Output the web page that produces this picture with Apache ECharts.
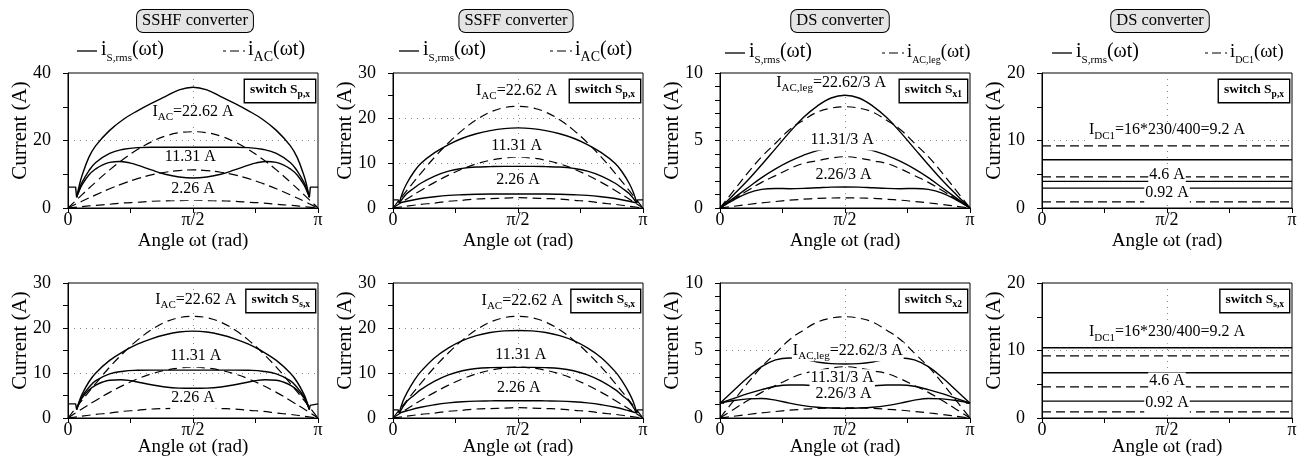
<!DOCTYPE html>
<html>
<head>
<meta charset="utf-8">
<title>Switch rms currents</title>
<script src="https://cdn.jsdelivr.net/npm/echarts@6/dist/echarts.min.js"></script>
<style>
  html, body { margin: 0; padding: 0; background: #fff; }
  #chart { width: 1310px; height: 475px; }
</style>
</head>
<body>
<div id="chart"></div>
<script>
const FONT = 'Liberation Serif'

// angle grid in degrees (0..180 is 0..pi)
const ang = [0, 10, 20, 30, 40, 50, 60, 70, 80, 90, 100, 110, 120, 130, 140, 150, 160, 170, 180]

// dashed reference currents i_AC (peaks 22.62 / 11.31 / 2.26 A)
const iAcHigh = [0, 3.9, 7.7, 11.3, 14.5, 17.3, 19.6, 21.3, 22.3, 22.6, 22.3, 21.3, 19.6, 17.3, 14.5, 11.3, 7.7, 3.9, 0]
const iAcMid = [0, 2.0, 3.9, 5.7, 7.3, 8.7, 9.8, 10.6, 11.1, 11.3, 11.1, 10.6, 9.8, 8.7, 7.3, 5.7, 3.9, 2.0, 0]
const iAcLow = [0, 0.4, 0.8, 1.1, 1.5, 1.7, 2.0, 2.1, 2.2, 2.3, 2.2, 2.1, 2.0, 1.7, 1.5, 1.1, 0.8, 0.4, 0]
// dashed leg currents of the DS converter (peaks 22.62/3 ...)
const iLegHigh = [0, 1.3, 2.6, 3.8, 4.8, 5.8, 6.5, 7.1, 7.4, 7.5, 7.4, 7.1, 6.5, 5.8, 4.8, 3.8, 2.6, 1.3, 0]
const iLegMid = [0, 0.65, 1.3, 1.9, 2.4, 2.9, 3.3, 3.5, 3.7, 3.8, 3.7, 3.5, 3.3, 2.9, 2.4, 1.9, 1.3, 0.65, 0]
const iLegLow = [0, 0.13, 0.26, 0.38, 0.48, 0.58, 0.65, 0.71, 0.74, 0.75, 0.74, 0.71, 0.65, 0.58, 0.48, 0.38, 0.26, 0.13, 0]

// SSHF, switch Sp,x
const sshfPHigh = [[6.2, 3.2], [8, 6.5], [10, 9.5], [15, 15], [20, 18.5], [30, 23], [40, 26.3], [50, 28.8], [60, 31], [70, 33], [80, 35], [90, 35.8], [100, 35], [110, 33], [120, 31], [130, 28.8], [140, 26.3], [150, 23], [160, 18.5], [165, 15], [170, 9.5], [172, 6.5], [173.8, 3.2]]
const sshfPMid = [[6.2, 3.2], [8, 5.5], [10, 7.5], [15, 11], [20, 13.5], [30, 16.2], [40, 17.4], [50, 17.9], [60, 18], [70, 18], [80, 18], [90, 18], [100, 18], [110, 18], [120, 18], [130, 17.9], [140, 17.4], [150, 16.2], [160, 13.5], [165, 11], [170, 7.5], [172, 5.5], [173.8, 3.2]]
const sshfPLow = [[6.2, 3.2], [8, 5], [10, 6.8], [15, 9.8], [20, 11.6], [25, 12.8], [30, 13.5], [37, 13.8], [45, 13.3], [50, 12.7], [60, 11.3], [70, 10], [80, 9.2], [90, 8.9], [100, 9.2], [110, 10], [120, 11.3], [130, 12.7], [135, 13.3], [143, 13.8], [150, 13.5], [155, 12.8], [160, 11.6], [165, 9.8], [170, 6.8], [172, 5], [173.8, 3.2]]
const sshfPEdgeL = [[0, 6.2], [5.5, 6.2], [5.7, 5.3], [6.2, 3.2]]
const sshfPEdgeR = [[173.8, 3.2], [174.3, 5.3], [174.5, 6.2], [180, 6.2]]

// SSHF, switch Ss,x
const sshfSHigh = [[6.2, 1.9], [8, 3.6], [10, 5.2], [15, 8], [20, 10], [30, 12.8], [40, 14.8], [50, 16.4], [60, 17.6], [70, 18.5], [80, 19.1], [90, 19.3], [100, 19.1], [110, 18.5], [120, 17.6], [130, 16.4], [140, 14.8], [150, 12.8], [160, 10], [165, 8], [170, 5.2], [172, 3.6], [173.8, 1.9]]
const sshfSMid = [[6.2, 1.9], [8, 3.4], [10, 4.7], [15, 6.8], [20, 8.3], [30, 9.8], [40, 10.4], [50, 10.6], [60, 10.65], [70, 10.65], [80, 10.65], [90, 10.65], [100, 10.65], [110, 10.65], [120, 10.65], [130, 10.6], [140, 10.4], [150, 9.8], [160, 8.3], [165, 6.8], [170, 4.7], [172, 3.4], [173.8, 1.9]]
const sshfSLow = [[6.2, 1.9], [8, 3.2], [10, 4.4], [15, 6.2], [20, 7.3], [25, 8], [30, 8.4], [38, 8.5], [45, 8.3], [50, 8], [60, 7.4], [70, 6.9], [80, 6.65], [90, 6.6], [100, 6.65], [110, 6.9], [120, 7.4], [130, 8], [135, 8.3], [142, 8.5], [150, 8.4], [155, 8], [160, 7.3], [165, 6.2], [170, 4.4], [172, 3.2], [173.8, 1.9]]
const sshfSEdgeL = [[0, 3.15], [5.5, 3.15], [5.7, 2.8], [6.2, 1.9]]
const sshfSEdgeR = [[173.8, 1.9], [174.3, 2.8], [174.5, 3.15], [180, 3.15]]

// SSFF, switch Sp,x
const ssffPHigh = [[4.5, 1.1], [7, 3.5], [10, 5.5], [15, 8], [20, 9.9], [30, 12.3], [40, 14.1], [50, 15.5], [60, 16.5], [70, 17.2], [80, 17.65], [90, 17.8], [100, 17.65], [110, 17.2], [120, 16.5], [130, 15.5], [140, 14.1], [150, 12.3], [160, 9.9], [165, 8], [170, 5.5], [173, 3.5], [175.5, 1.1]]
const ssffPMid = [[4.5, 1.1], [10, 3.2], [15, 4.4], [20, 5.5], [30, 7.1], [40, 8.2], [50, 8.8], [60, 9.1], [70, 9.2], [80, 9.25], [90, 9.25], [100, 9.25], [110, 9.2], [120, 9.1], [130, 8.8], [140, 8.2], [150, 7.1], [160, 5.5], [165, 4.4], [170, 3.2], [175.5, 1.1]]
const ssffPLow = [[4.5, 1.1], [10, 1.5], [20, 2.1], [30, 2.5], [40, 2.8], [50, 2.95], [60, 3.05], [70, 3.1], [80, 3.1], [90, 3.1], [100, 3.1], [110, 3.1], [120, 3.05], [130, 2.95], [140, 2.8], [150, 2.5], [160, 2.1], [170, 1.5], [175.5, 1.1]]
const ssffEdgeL = [[0, 1.8], [3.8, 1.8], [4.0, 1.5], [4.5, 1.1]]
const ssffEdgeR = [[175.5, 1.1], [176, 1.5], [176.2, 1.8], [180, 1.8]]

// SSFF, switch Ss,x
const ssffSHigh = [[4.5, 1.1], [7, 3.6], [10, 5.6], [15, 8.2], [20, 10.3], [30, 13.4], [40, 15.6], [50, 17.2], [60, 18.3], [70, 19], [80, 19.35], [90, 19.45], [100, 19.35], [110, 19], [120, 18.3], [130, 17.2], [140, 15.6], [150, 13.4], [160, 10.3], [165, 8.2], [170, 5.6], [173, 3.6], [175.5, 1.1]]
const ssffSMid = [[4.5, 1.1], [10, 3.7], [15, 5], [20, 6.3], [30, 8.2], [40, 9.6], [50, 10.5], [60, 11], [70, 11.2], [80, 11.25], [90, 11.25], [100, 11.25], [110, 11.2], [120, 11], [130, 10.5], [140, 9.6], [150, 8.2], [160, 6.3], [165, 5], [170, 3.7], [175.5, 1.1]]
const ssffSLow = [[4.5, 1.1], [10, 1.6], [20, 2.4], [30, 2.95], [40, 3.35], [50, 3.6], [60, 3.75], [70, 3.8], [80, 3.85], [90, 3.85], [100, 3.85], [110, 3.8], [120, 3.75], [130, 3.6], [140, 3.35], [150, 2.95], [160, 2.4], [170, 1.6], [175.5, 1.1]]

// DS converter, switches Sx1 and Sx2 (values on the ang grid)
const dsX1High = [0, 1.0, 2.05, 3.2, 4.4, 5.6, 6.7, 7.55, 8.15, 8.35, 8.15, 7.55, 6.7, 5.6, 4.4, 3.2, 2.05, 1.0, 0]
const dsX1Mid = [0, 0.75, 1.5, 2.25, 2.9, 3.45, 3.9, 4.25, 4.42, 4.47, 4.42, 4.25, 3.9, 3.45, 2.9, 2.25, 1.5, 0.75, 0]
const dsX1Low = [0, 0.6, 1.1, 1.38, 1.45, 1.43, 1.45, 1.5, 1.55, 1.56, 1.55, 1.5, 1.45, 1.43, 1.45, 1.38, 1.1, 0.6, 0]
const dsX2High = [1.1, 2.05, 3.0, 3.8, 4.3, 4.45, 4.35, 4.15, 4.03, 4.0, 4.03, 4.15, 4.35, 4.45, 4.3, 3.8, 3.0, 2.05, 1.1]
const dsX2Mid = [1.1, 1.45, 1.8, 2.1, 2.35, 2.45, 2.45, 2.38, 2.3, 2.28, 2.3, 2.38, 2.45, 2.45, 2.35, 2.1, 1.8, 1.45, 1.1]
const dsX2Low = [1.1, 1.3, 1.42, 1.45, 1.32, 1.1, 0.92, 0.8, 0.74, 0.72, 0.74, 0.8, 0.92, 1.1, 1.32, 1.45, 1.42, 1.3, 1.1]

// DS converter, DC side (constant levels)
const iDc1 = [9.2, 4.6, 0.92]
const dsPxRms = [7.15, 3.95, 2.95]
const dsSxRms = [10.4, 6.7, 2.5]

const pairs = (xs, ys) => xs.map((x, i) => [x, ys[i]])
const flat = v => [[0, v], [180, v]]

const noteRich = {
  m: { fontSize: 16, fontFamily: FONT, fill: '#000', verticalAlign: 'bottom', padding: [0, 0, 3, 0] },
  s: { fontSize: 11, fontFamily: FONT, fill: '#000', verticalAlign: 'bottom' }
}
const acNotes = (a, b, c) => [
  { at: a, text: '{m|I}{s|AC}{m|=22.62 A}' },
  { at: b, text: '{m|11.31 A}' },
  { at: c, text: '{m|2.26 A}' }
]
const legNotes = (a, b, c) => [
  { at: a, text: '{m|I}{s|AC,leg}{m|=22.62/3 A}' },
  { at: b, text: '{m|11.31/3 A}' },
  { at: c, text: '{m|2.26/3 A}' }
]
const dcNotes = (a, b, c) => [
  { at: a, text: '{m|I}{s|DC1}{m|=16*230/400=9.2 A}' },
  { at: b, text: '{m|4.6 A}' },
  { at: c, text: '{m|0.92 A}' }
]

const panels = [
  { yMax: 40, yInt: 20, minor: 2, sw: 'p,x',
    solid: [sshfPHigh, sshfPMid, sshfPLow], sharp: [sshfPEdgeL, sshfPEdgeR],
    dashed: [pairs(ang, iAcHigh), pairs(ang, iAcMid), pairs(ang, iAcLow)],
    notes: acNotes([90, 28], [88, 14.6], [90, 5.1]) },
  { yMax: 30, yInt: 10, minor: 2, sw: 'p,x',
    solid: [ssffPHigh, ssffPMid, ssffPLow], sharp: [ssffEdgeL, ssffEdgeR],
    dashed: [pairs(ang, iAcHigh), pairs(ang, iAcMid), pairs(ang, iAcLow)],
    notes: acNotes([89, 25.8], [89, 13.4], [90, 6.0]) },
  { yMax: 10, yInt: 5, minor: 5, sw: 'x1',
    solid: [pairs(ang, dsX1High), pairs(ang, dsX1Mid), pairs(ang, dsX1Low)], sharp: [],
    dashed: [pairs(ang, iLegHigh), pairs(ang, iLegMid), pairs(ang, iLegLow)],
    notes: legNotes([80, 9.2], [88, 4.96], [89, 2.33]) },
  { yMax: 20, yInt: 10, minor: 2, sw: 'p,x',
    solid: [], sharp: dsPxRms.map(flat),
    dashed: iDc1.map(flat), dashedSharp: true,
    notes: dcNotes([90, 11.3], [90, 4.67], [90, 1.97]) },
  { yMax: 30, yInt: 10, minor: 2, sw: 's,x',
    solid: [sshfSHigh, sshfSMid, sshfSLow], sharp: [sshfSEdgeL, sshfSEdgeR],
    dashed: [pairs(ang, iAcHigh), pairs(ang, iAcMid), pairs(ang, iAcLow)],
    notes: acNotes([92, 25.9], [92, 13.4], [90, 4.1]) },
  { yMax: 30, yInt: 10, minor: 2, sw: 's,x',
    solid: [ssffSHigh, ssffSMid, ssffSLow], sharp: [ssffEdgeL, ssffEdgeR],
    dashed: [pairs(ang, iAcHigh), pairs(ang, iAcMid), pairs(ang, iAcLow)],
    notes: acNotes([93, 25.8], [92, 13.8], [90.5, 6.4]) },
  { yMax: 10, yInt: 5, minor: 5, sw: 'x2',
    solid: [pairs(ang, dsX2High), pairs(ang, dsX2Mid), pairs(ang, dsX2Low)], sharp: [[[0, 1.1], [3, 1.1]], [[177, 1.1], [180, 1.1]]],
    dashed: [pairs(ang, iLegHigh), pairs(ang, iLegMid), pairs(ang, iLegLow)],
    notes: legNotes([92, 4.9], [88, 2.9], [89, 1.65]) },
  { yMax: 20, yInt: 10, minor: 2, sw: 's,x',
    solid: [], sharp: dsSxRms.map(flat),
    dashed: iDc1.map(flat), dashedSharp: true,
    notes: dcNotes([90, 12.5], [90, 5.33], [90, 2.0]) }
]

// layout of the 2 x 4 panels
const lefts = [68, 393, 720, 1042]
const tops = [73, 283]
const PW = 250
const PH = 135

const grids = []
const xAxes = []
const yAxes = []
const series = []
const graphics = []

panels.forEach((p, i) => {
  const col = i % 4
  const row = Math.floor(i / 4)
  const left = lefts[col]
  const top = tops[row]
  grids.push({ left: left, top: top, width: PW, height: PH, show: true, borderColor: '#000', borderWidth: 1, outerBoundsMode: 'none' })
  xAxes.push({
    type: 'value', gridIndex: i, min: 0, max: 180, interval: 90,
    axisLine: { show: true, lineStyle: { color: '#000', width: 1 } },
    axisTick: { show: true, inside: false, length: 5, lineStyle: { color: '#000' } },
    minorTick: { show: true, splitNumber: 2, length: 5, lineStyle: { color: '#000' } },
    axisLabel: {
      margin: 3, fontSize: 18, fontFamily: FONT, color: '#000', showMinLabel: true, showMaxLabel: true,
      formatter: v => (v === 0 ? '0' : v === 90 ? 'π/2' : v === 180 ? 'π' : '')
    },
    splitLine: { show: true, showMinLine: false, showMaxLine: false, lineStyle: { color: '#888', width: 1, type: [1, 5] } },
    name: 'Angle ωt (rad)', nameLocation: 'middle', nameGap: row === 0 ? 24 : 20, nameMoveOverlap: false,
    nameTextStyle: { fontSize: 19, fontFamily: FONT, color: '#000' }
  })
  yAxes.push({
    type: 'value', gridIndex: i, min: 0, max: p.yMax, interval: p.yInt,
    axisLine: { show: true, lineStyle: { color: '#000', width: 1 } },
    axisTick: { show: true, inside: false, length: 5, lineStyle: { color: '#000' } },
    minorTick: { show: true, splitNumber: p.minor, length: 5, lineStyle: { color: '#000' } },
    axisLabel: { margin: 17, fontSize: 18, fontFamily: FONT, color: '#000', showMinLabel: true, showMaxLabel: true },
    splitLine: { show: true, showMinLine: false, showMaxLine: false, lineStyle: { color: '#888', width: 1, type: [1, 5] } },
    name: 'Current (A)', nameLocation: 'middle', nameGap: 37, nameMoveOverlap: false,
    nameTextStyle: { fontSize: 21, fontFamily: FONT, color: '#000', padding: [0, 0, 0, 20] }
  })

  const base = { type: 'line', xAxisIndex: i, yAxisIndex: i, symbol: 'none', silent: true, z: 3 }
  p.solid.forEach(d => series.push(Object.assign({}, base, {
    data: d, smooth: 0.4, lineStyle: { color: '#000', width: 1.4 }
  })))
  p.sharp.forEach(d => series.push(Object.assign({}, base, {
    data: d, smooth: false, lineStyle: { color: '#000', width: 1.4 }
  })))
  p.dashed.forEach(d => series.push(Object.assign({}, base, {
    data: d, smooth: p.dashedSharp ? false : 0.4, lineStyle: { color: '#000', width: 1.2, type: [9, 5] }
  })))

  // boxed "switch S.." tag in the upper right corner
  graphics.push({
    type: 'text', z: 20,
    style: {
      x: left + PW - 3, y: top + 7, align: 'right', verticalAlign: 'top',
      text: '{b|switch S}{s|' + p.sw + '}',
      rich: {
        b: { fontSize: 13.5, fontWeight: 'bold', fontFamily: FONT, fill: '#000', verticalAlign: 'bottom', padding: [0, 0, 3, 0] },
        s: { fontSize: 9.5, fontWeight: 'bold', fontFamily: FONT, fill: '#000', verticalAlign: 'bottom' }
      },
      backgroundColor: '#fff', borderColor: '#000', borderWidth: 1.4, padding: [3, 5, 2, 5]
    }
  })
})

// converter titles and legends of the top row
const titles = [
  { x: 195, text: 'SSHF converter' },
  { x: 516, text: 'SSFF converter' },
  { x: 840, text: 'DS converter' },
  { x: 1160, text: 'DS converter' }
]
titles.forEach(t => graphics.push({
  type: 'text', z: 20,
  style: {
    x: t.x, y: 21, align: 'center', verticalAlign: 'middle', text: t.text,
    font: '16.5px "Liberation Serif"', fill: '#000',
    backgroundColor: '#e4e4e4', borderColor: '#000', borderWidth: 1, borderRadius: 6, padding: [3, 5, 2, 5]
  }
}))

const legRich = {
  m: { fontSize: 20, fontFamily: FONT, fill: '#000', verticalAlign: 'bottom', padding: [0, 0, 4, 0] },
  n: { fontSize: 18.5, fontFamily: FONT, fill: '#000', verticalAlign: 'bottom', padding: [0, 0, 4, 0] },
  s: { fontSize: 11, fontFamily: FONT, fill: '#000', verticalAlign: 'bottom' },
  t: { fontSize: 14, fontFamily: FONT, fill: '#000', verticalAlign: 'bottom' },
  u: { fontSize: 10, fontFamily: FONT, fill: '#000', verticalAlign: 'bottom' }
}
const legends = [
  { a: 77, b: 223, y: 51, dash: '{m|i}{t|AC}{m|(ωt)}' },
  { a: 399, b: 550, y: 51, dash: '{m|i}{t|AC}{m|(ωt)}' },
  { a: 725, b: 882, y: 53, dash: '{n|i}{u|AC,leg}{n|(ωt)}' },
  { a: 1052, b: 1205, y: 53, dash: '{n|i}{u|DC1}{n|(ωt)}' }
]
legends.forEach(l => {
  graphics.push({ type: 'line', z: 20, shape: { x1: l.a, y1: l.y, x2: l.a + 20, y2: l.y }, style: { stroke: '#000', lineWidth: 1.3 } })
  graphics.push({ type: 'text', z: 20, style: { x: l.a + 24, y: l.y + 1, align: 'left', verticalAlign: 'middle', text: '{m|i}{s|S,rms}{m|(ωt)}', rich: legRich } })
  graphics.push({ type: 'line', z: 20, shape: { x1: l.b, y1: l.y, x2: l.b + 22, y2: l.y }, style: { stroke: '#000', lineWidth: 1.2, lineDash: [3, 4, 9, 4] } })
  graphics.push({ type: 'text', z: 20, style: { x: l.b + 25, y: l.y + 1, align: 'left', verticalAlign: 'middle', text: l.dash, rich: legRich } })
})

const chart = echarts.init(document.getElementById('chart'))
chart.setOption({
  backgroundColor: '#fff',
  animation: false,
  grid: grids,
  xAxis: xAxes,
  yAxis: yAxes,
  series: series
})

// in-plot annotations, placed through each panel's own axes
panels.forEach((p, i) => {
  p.notes.forEach(n => {
    const pt = chart.convertToPixel({ gridIndex: i }, n.at)
    graphics.push({
      type: 'text', z: 15,
      style: {
        x: pt[0], y: pt[1], align: 'center', verticalAlign: 'middle',
        text: n.text, rich: noteRich, fill: '#000',
        backgroundColor: '#fff', padding: [0, 1, 0, 1]
      }
    })
  })
})
chart.setOption({ graphic: graphics })
</script>
</body>
</html>
